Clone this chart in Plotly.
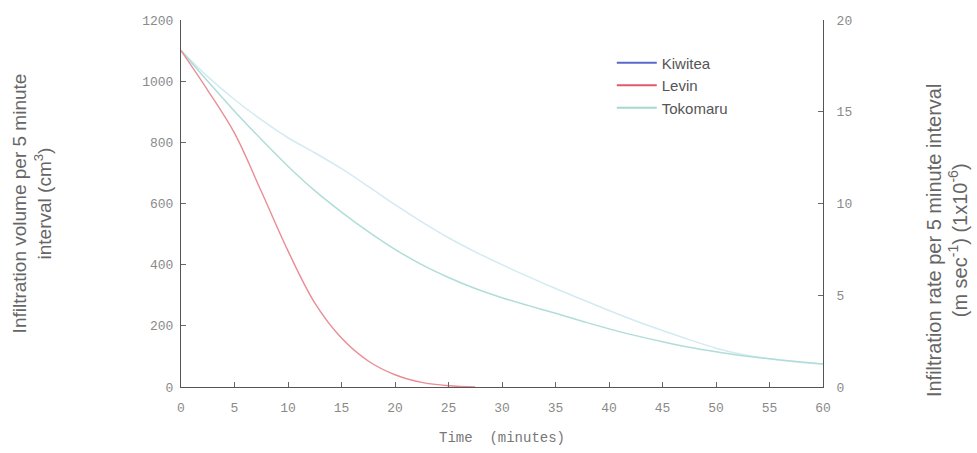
import plotly.graph_objects as go

time_min = [0, 2.5, 5, 7.5, 10, 12.5, 15, 17.5, 20, 22.5, 25, 27.5, 30, 32.5, 35,
            37.5, 40, 42.5, 45, 47.5, 50, 52.5, 55, 57.5, 60]

kiwitea = [1100, 1015, 940, 874, 815, 766, 714, 656, 596, 540, 488, 442, 400, 360, 322,
           286, 250, 216, 185, 155, 127, 106, 92, 82, 75]

tokomaru = [1100, 1000, 902, 810, 722, 642, 572, 508, 450, 400, 358, 322, 292, 266, 241,
            215, 190, 168, 148, 130, 115, 102, 92, 83, 75]

levin_time = [0, 2.5, 5, 7.5, 10, 12.5, 15, 17.5, 20, 22.5, 25, 27.5]
levin = [1100, 970, 830, 640, 445, 275, 160, 85, 40, 15, 4, 0]

x_ticks = list(range(0, 61, 5))
y_ticks = [0, 200, 400, 600, 800, 1000, 1200]
y2_ticks = [0, 5, 10, 15, 20]

fig = go.Figure()

# data curves (faint, as in the scan)
fig.add_trace(go.Scatter(x=time_min, y=kiwitea, mode="lines",
                         line=dict(color="#d2ebf1", width=1.5, shape="spline", smoothing=1.0),
                         showlegend=False, hoverinfo="skip"))
fig.add_trace(go.Scatter(x=time_min, y=tokomaru, mode="lines",
                         line=dict(color="#b0ddd8", width=1.5, shape="spline", smoothing=1.0),
                         showlegend=False, hoverinfo="skip"))
fig.add_trace(go.Scatter(x=levin_time, y=levin, mode="lines",
                         line=dict(color="#ea8c95", width=1.4, shape="spline", smoothing=1.0),
                         showlegend=False, hoverinfo="skip"))

# legend entries
for name, col in [("Kiwitea", "#5a68c8"), ("Levin", "#e05a6a"), ("Tokomaru", "#a6d8d2")]:
    fig.add_trace(go.Scatter(x=[None], y=[None], mode="lines", name=name, line=dict(color=col, width=2)))

# invisible trace for right axis
fig.add_trace(go.Scatter(x=[None], y=[None], yaxis="y2", showlegend=False, hoverinfo="skip"))

tick_font = dict(family="Liberation Mono, DejaVu Sans Mono, monospace", size=13, color="#8a8a8a")

fig.update_layout(
    width=977, height=453,
    margin=dict(l=181, r=154, t=20, b=66),
    paper_bgcolor="white", plot_bgcolor="white",
    showlegend=True,
    legend=dict(x=0.671, y=0.928, xanchor="left", yanchor="top", bgcolor="rgba(0,0,0,0)",
                font=dict(family="Liberation Sans, Arial, sans-serif", size=15, color="#555555"),
                tracegroupgap=0, itemwidth=40),
    xaxis=dict(range=[0, 60], tickvals=x_ticks, ticks="inside", ticklen=5, tickcolor="#666",
               showline=True, linecolor="#555", linewidth=1, showgrid=False, zeroline=False,
               tickfont=tick_font, ticklabelstandoff=8,
               title=dict(text="Time  (minutes)",
                          font=dict(family="Liberation Mono, DejaVu Sans Mono, monospace", size=14, color="#777777"),
                          standoff=17)),
    yaxis=dict(range=[0, 1200], tickvals=y_ticks, ticks="inside", ticklen=5, tickcolor="#666",
               showline=True, linecolor="#555", linewidth=1, showgrid=False, zeroline=False,
               tickfont=tick_font, ticklabelstandoff=4,
               title=dict(text="Infiltration volume per 5 minute<br>interval (cm<sup>3</sup>)",
                          font=dict(family="Liberation Sans, Arial, sans-serif", size=19, color="#666666"),
                          standoff=85)),
    yaxis2=dict(range=[0, 20], tickvals=y2_ticks, overlaying="y", side="right", ticks="inside", ticklen=5,
                tickcolor="#666", showline=True, linecolor="#555", linewidth=1, showgrid=False, zeroline=False,
                tickfont=tick_font, ticklabelstandoff=10),
    annotations=[dict(text="Infiltration rate per 5 minute interval<br>(m sec<sup>-1</sup>) (1x10<sup>-6</sup>)",
                      xref="paper", yref="paper", x=1.193, y=0.40, xanchor="center", yanchor="middle",
                      textangle=-90, showarrow=False,
                      font=dict(family="Liberation Sans, Arial, sans-serif", size=20, color="#666666"))],
)

fig.write_html("out.html")
